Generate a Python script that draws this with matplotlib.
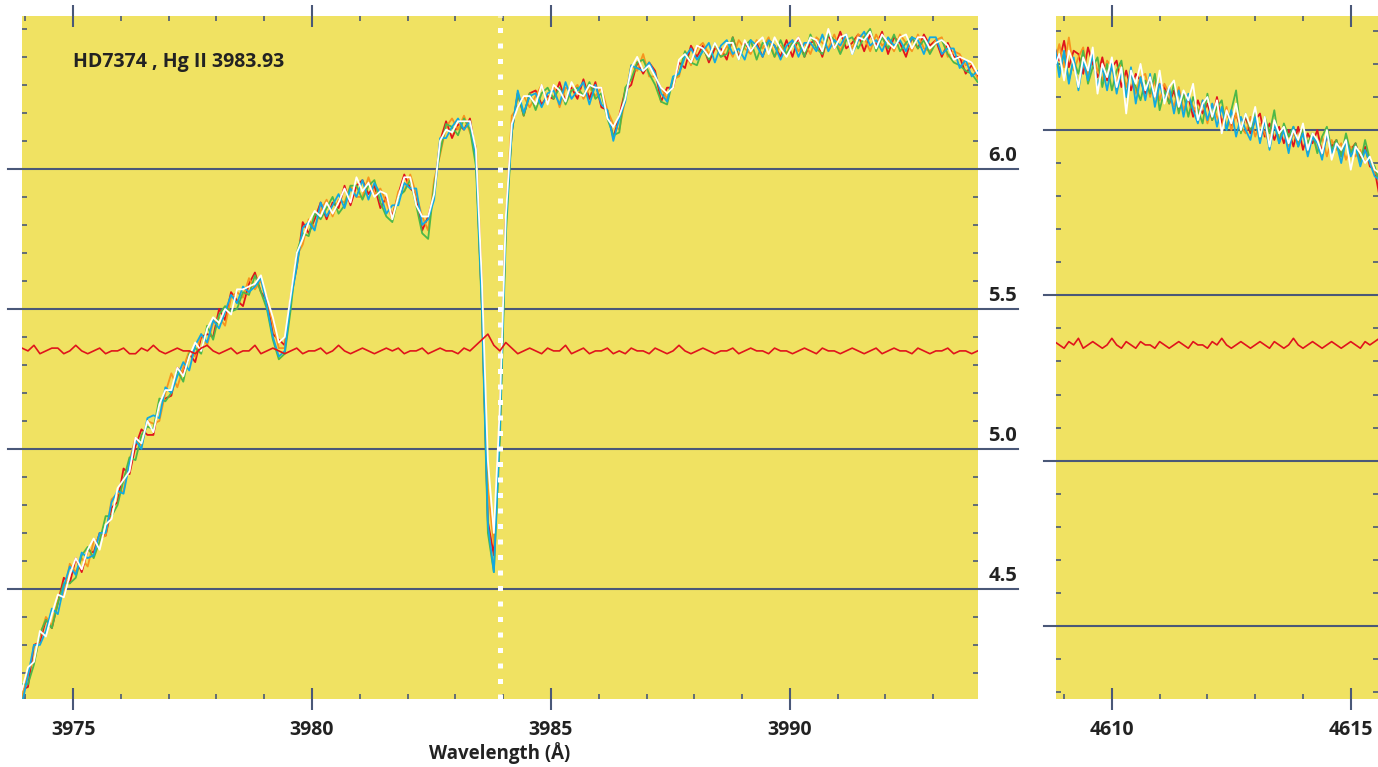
#!/usr/bin/env python3

import numpy as np
import matplotlib
matplotlib.use("Agg")
import matplotlib.pyplot as plt
from matplotlib.ticker import MultipleLocator, NullFormatter, FormatStrFormatter

# ---- data -------------------------------------------------------------------
star = "HD7374"
line_name = "Hg II"
line_wl = 3983.93

# wavelength grids of the two windows (Angstrom)
wl_hg = np.linspace(3973.93, 3993.93, 161)
wl_ref = np.linspace(4608.8, 4615.6, 69)

# normalised flux + offset, one array per exposure, Hg II window
hg_red = [
    4.14, 4.15, 4.30, 4.31, 4.39, 4.36, 4.45, 4.54, 4.52, 4.61, 4.56, 4.64, 4.63, 4.70, 4.69, 4.79,
    4.81, 4.93, 4.91, 5.01, 5.07, 5.05, 5.05, 5.17, 5.18, 5.19, 5.29, 5.27, 5.34, 5.31, 5.40, 5.41,
    5.40, 5.50, 5.46, 5.56, 5.53, 5.51, 5.59, 5.63, 5.56, 5.53, 5.41, 5.39, 5.37, 5.54, 5.65, 5.81,
    5.77, 5.82, 5.88, 5.82, 5.88, 5.86, 5.94, 5.87, 5.94, 5.96, 5.91, 5.94, 5.86, 5.90, 5.83, 5.91,
    5.98, 5.93, 5.91, 5.78, 5.83, 5.91, 6.10, 6.17, 6.11, 6.16, 6.14, 6.18, 6.05, 5.51, 4.74, 4.62,
    5.07, 5.82, 6.13, 6.27, 6.19, 6.27, 6.28, 6.23, 6.26, 6.25, 6.31, 6.24, 6.29, 6.25, 6.32, 6.25,
    6.31, 6.22, 6.21, 6.11, 6.19, 6.28, 6.30, 6.38, 6.34, 6.38, 6.35, 6.24, 6.29, 6.29, 6.38, 6.36,
    6.44, 6.40, 6.44, 6.38, 6.43, 6.43, 6.39, 6.47, 6.40, 6.45, 6.42, 6.45, 6.40, 6.46, 6.44, 6.40,
    6.46, 6.40, 6.47, 6.40, 6.45, 6.46, 6.40, 6.48, 6.43, 6.49, 6.43, 6.45, 6.48, 6.42, 6.48, 6.44,
    6.49, 6.41, 6.47, 6.45, 6.40, 6.47, 6.43, 6.48, 6.44, 6.46, 6.40, 6.45, 6.40, 6.40, 6.34, 6.37,
    6.33,
]
hg_orange = [
    4.11, 4.21, 4.24, 4.33, 4.40, 4.37, 4.46, 4.48, 4.59, 4.56, 4.61, 4.58, 4.67, 4.68, 4.69, 4.82,
    4.84, 4.85, 4.96, 5.04, 5.01, 5.10, 5.09, 5.10, 5.20, 5.27, 5.22, 5.29, 5.35, 5.33, 5.41, 5.37,
    5.45, 5.47, 5.44, 5.54, 5.56, 5.54, 5.61, 5.57, 5.60, 5.54, 5.45, 5.36, 5.36, 5.55, 5.69, 5.73,
    5.82, 5.79, 5.85, 5.89, 5.83, 5.89, 5.88, 5.94, 5.90, 5.90, 5.97, 5.91, 5.93, 5.88, 5.82, 5.92,
    5.92, 5.98, 5.91, 5.83, 5.78, 5.96, 6.05, 6.15, 6.18, 6.14, 6.19, 6.13, 6.08, 5.60, 4.86, 4.66,
    5.13, 5.82, 6.19, 6.22, 6.26, 6.22, 6.26, 6.30, 6.24, 6.30, 6.22, 6.29, 6.28, 6.30, 6.25, 6.29,
    6.26, 6.29, 6.21, 6.16, 6.14, 6.25, 6.37, 6.35, 6.41, 6.33, 6.33, 6.29, 6.25, 6.32, 6.33, 6.42,
    6.37, 6.43, 6.45, 6.41, 6.44, 6.40, 6.44, 6.40, 6.46, 6.43, 6.41, 6.46, 6.43, 6.47, 6.40, 6.44,
    6.41, 6.46, 6.42, 6.45, 6.41, 6.47, 6.45, 6.43, 6.48, 6.42, 6.47, 6.43, 6.48, 6.47, 6.42, 6.48,
    6.44, 6.46, 6.42, 6.48, 6.45, 6.42, 6.48, 6.43, 6.42, 6.46, 6.47, 6.40, 6.42, 6.41, 6.37, 6.38,
    6.32,
]
hg_green = [
    4.16, 4.16, 4.23, 4.34, 4.39, 4.36, 4.45, 4.52, 4.52, 4.54, 4.62, 4.65, 4.61, 4.67, 4.76, 4.76,
    4.80, 4.89, 4.97, 4.96, 5.05, 5.08, 5.07, 5.18, 5.17, 5.20, 5.28, 5.24, 5.34, 5.36, 5.34, 5.44,
    5.39, 5.48, 5.51, 5.49, 5.50, 5.56, 5.55, 5.62, 5.56, 5.50, 5.39, 5.32, 5.34, 5.50, 5.70, 5.77,
    5.76, 5.84, 5.82, 5.86, 5.90, 5.84, 5.87, 5.94, 5.94, 5.89, 5.94, 5.96, 5.88, 5.83, 5.81, 5.90,
    5.92, 5.96, 5.87, 5.77, 5.75, 5.94, 6.06, 6.16, 6.15, 6.12, 6.18, 6.14, 6.01, 5.49, 4.70, 4.56,
    5.03, 5.76, 6.13, 6.27, 6.19, 6.27, 6.21, 6.27, 6.29, 6.25, 6.29, 6.23, 6.28, 6.29, 6.26, 6.31,
    6.25, 6.27, 6.18, 6.12, 6.13, 6.29, 6.32, 6.38, 6.39, 6.34, 6.30, 6.24, 6.23, 6.32, 6.34, 6.42,
    6.38, 6.37, 6.43, 6.39, 6.45, 6.40, 6.41, 6.47, 6.39, 6.44, 6.46, 6.39, 6.45, 6.45, 6.40, 6.46,
    6.41, 6.45, 6.45, 6.40, 6.48, 6.43, 6.41, 6.48, 6.46, 6.41, 6.46, 6.47, 6.43, 6.47, 6.50, 6.42,
    6.47, 6.43, 6.48, 6.42, 6.45, 6.47, 6.43, 6.46, 6.41, 6.45, 6.46, 6.41, 6.38, 6.37, 6.35, 6.34,
    6.31,
]
hg_blue = [
    4.09, 4.19, 4.30, 4.30, 4.35, 4.43, 4.41, 4.51, 4.58, 4.55, 4.63, 4.61, 4.62, 4.70, 4.70, 4.81,
    4.85, 4.84, 4.95, 5.03, 5.00, 5.11, 5.12, 5.11, 5.22, 5.20, 5.26, 5.31, 5.28, 5.37, 5.41, 5.38,
    5.46, 5.43, 5.49, 5.55, 5.52, 5.58, 5.56, 5.58, 5.61, 5.51, 5.40, 5.33, 5.35, 5.53, 5.65, 5.79,
    5.81, 5.78, 5.88, 5.83, 5.87, 5.91, 5.86, 5.93, 5.90, 5.96, 5.89, 5.95, 5.91, 5.84, 5.87, 5.87,
    5.95, 5.93, 5.93, 5.80, 5.82, 5.89, 6.11, 6.11, 6.15, 6.18, 6.14, 6.17, 6.04, 5.51, 4.73, 4.56,
    5.07, 5.80, 6.13, 6.28, 6.20, 6.26, 6.27, 6.22, 6.27, 6.28, 6.23, 6.31, 6.25, 6.28, 6.31, 6.23,
    6.30, 6.23, 6.21, 6.10, 6.18, 6.24, 6.37, 6.36, 6.35, 6.38, 6.34, 6.27, 6.24, 6.33, 6.34, 6.40,
    6.43, 6.39, 6.42, 6.45, 6.38, 6.44, 6.46, 6.41, 6.43, 6.39, 6.46, 6.44, 6.40, 6.46, 6.44, 6.39,
    6.44, 6.46, 6.40, 6.45, 6.45, 6.42, 6.48, 6.42, 6.46, 6.44, 6.48, 6.41, 6.46, 6.49, 6.44, 6.46,
    6.42, 6.47, 6.44, 6.46, 6.42, 6.47, 6.46, 6.41, 6.47, 6.47, 6.41, 6.43, 6.43, 6.36, 6.39, 6.33,
    6.35,
]
hg_white = [
    4.14, 4.22, 4.24, 4.35, 4.33, 4.41, 4.48, 4.47, 4.55, 4.61, 4.57, 4.64, 4.68, 4.64, 4.73, 4.75,
    4.86, 4.89, 4.92, 5.04, 5.02, 5.10, 5.06, 5.16, 5.21, 5.21, 5.29, 5.26, 5.33, 5.38, 5.35, 5.43,
    5.47, 5.45, 5.50, 5.48, 5.57, 5.57, 5.58, 5.59, 5.62, 5.54, 5.47, 5.38, 5.40, 5.55, 5.70, 5.75,
    5.81, 5.85, 5.83, 5.88, 5.84, 5.88, 5.93, 5.88, 5.97, 5.92, 5.95, 5.90, 5.92, 5.91, 5.82, 5.90,
    5.97, 5.97, 5.87, 5.83, 5.83, 5.91, 6.10, 6.14, 6.13, 6.17, 6.17, 6.17, 6.07, 5.60, 4.96, 4.70,
    5.15, 5.83, 6.16, 6.22, 6.26, 6.26, 6.23, 6.30, 6.23, 6.30, 6.28, 6.24, 6.31, 6.27, 6.26, 6.30,
    6.29, 6.29, 6.18, 6.15, 6.19, 6.25, 6.36, 6.40, 6.35, 6.37, 6.33, 6.29, 6.27, 6.29, 6.39, 6.41,
    6.38, 6.44, 6.43, 6.40, 6.45, 6.41, 6.45, 6.45, 6.39, 6.46, 6.42, 6.45, 6.47, 6.41, 6.47, 6.43,
    6.40, 6.44, 6.47, 6.42, 6.47, 6.46, 6.42, 6.50, 6.43, 6.47, 6.48, 6.41, 6.47, 6.46, 6.49, 6.43,
    6.48, 6.45, 6.43, 6.47, 6.48, 6.43, 6.47, 6.47, 6.43, 6.45, 6.46, 6.44, 6.39, 6.40, 6.39, 6.38,
    6.34,
]
# residual (difference of exposures + offset)
hg_diff = [
    5.36, 5.35, 5.37, 5.34, 5.35, 5.36, 5.36, 5.34, 5.35, 5.37, 5.35, 5.34, 5.35, 5.36, 5.34, 5.35,
    5.35, 5.36, 5.34, 5.34, 5.36, 5.35, 5.37, 5.35, 5.34, 5.35, 5.36, 5.35, 5.35, 5.34, 5.36, 5.37,
    5.35, 5.34, 5.35, 5.36, 5.34, 5.35, 5.35, 5.37, 5.34, 5.35, 5.36, 5.35, 5.34, 5.35, 5.36, 5.34,
    5.35, 5.35, 5.36, 5.34, 5.35, 5.37, 5.35, 5.34, 5.35, 5.36, 5.35, 5.34, 5.35, 5.36, 5.35, 5.36,
    5.34, 5.35, 5.35, 5.36, 5.34, 5.35, 5.36, 5.35, 5.35, 5.34, 5.36, 5.35, 5.37, 5.39, 5.41, 5.37,
    5.35, 5.38, 5.36, 5.34, 5.35, 5.36, 5.35, 5.34, 5.36, 5.35, 5.35, 5.37, 5.34, 5.35, 5.36, 5.34,
    5.35, 5.35, 5.36, 5.34, 5.35, 5.34, 5.36, 5.35, 5.35, 5.34, 5.36, 5.35, 5.34, 5.35, 5.37, 5.35,
    5.34, 5.35, 5.36, 5.35, 5.34, 5.35, 5.35, 5.36, 5.34, 5.35, 5.36, 5.35, 5.35, 5.34, 5.36, 5.35,
    5.35, 5.34, 5.35, 5.36, 5.35, 5.34, 5.36, 5.35, 5.35, 5.34, 5.35, 5.36, 5.35, 5.34, 5.35, 5.36,
    5.34, 5.35, 5.36, 5.35, 5.35, 5.34, 5.36, 5.35, 5.34, 5.35, 5.35, 5.36, 5.34, 5.35, 5.35, 5.34,
    5.35,
]

# reference window, same exposures
ref_red = [
    6.25, 6.21, 6.27, 6.19, 6.24, 6.23, 6.17, 6.25, 6.20, 6.16, 6.22, 6.15, 6.19, 6.21, 6.13, 6.18,
    6.12, 6.17, 6.15, 6.11, 6.16, 6.10, 6.14, 6.13, 6.08, 6.12, 6.06, 6.11, 6.10, 6.04, 6.09, 6.05,
    6.08, 6.03, 6.10, 6.02, 6.06, 6.01, 6.05, 6.00, 6.04, 5.99, 6.03, 6.05, 5.98, 6.02, 5.97, 6.01,
    5.96, 6.00, 5.95, 6.01, 5.94, 5.99, 5.96, 6.00, 5.93, 5.98, 5.95, 5.97, 5.92, 5.97, 5.94, 5.96,
    5.91, 5.95, 5.89, 5.88, 5.80,
]
ref_orange = [
    6.20, 6.26, 6.19, 6.28, 6.18, 6.22, 6.25, 6.16, 6.23, 6.18, 6.15, 6.21, 6.19, 6.14, 6.20, 6.13,
    6.18, 6.11, 6.16, 6.17, 6.10, 6.15, 6.09, 6.14, 6.11, 6.07, 6.13, 6.06, 6.10, 6.07, 6.05, 6.09,
    6.02, 6.08, 6.04, 6.01, 6.07, 6.00, 6.05, 6.01, 5.99, 6.04, 5.98, 6.02, 5.99, 5.96, 6.03, 5.97,
    6.01, 5.95, 5.99, 5.96, 6.00, 5.93, 5.99, 5.94, 5.98, 5.92, 5.97, 5.94, 5.96, 5.91, 5.95, 5.92,
    5.94, 5.90, 5.92, 5.87, 5.86,
]
ref_green = [
    6.24, 6.18, 6.23, 6.15, 6.21, 6.17, 6.24, 6.14, 6.19, 6.22, 6.13, 6.20, 6.12, 6.18, 6.21, 6.10,
    6.17, 6.13, 6.09, 6.15, 6.11, 6.17, 6.06, 6.12, 6.08, 6.14, 6.05, 6.11, 6.04, 6.10, 6.06, 6.02,
    6.11, 6.03, 6.07, 6.09, 6.00, 6.06, 6.12, 5.99, 6.05, 6.00, 6.06, 5.97, 6.04, 5.99, 6.06, 5.96,
    6.02, 5.98, 6.01, 5.95, 6.00, 5.96, 5.99, 5.93, 5.98, 6.01, 5.94, 5.97, 5.92, 5.99, 5.93, 5.96,
    5.90, 5.97, 5.91, 5.89, 5.84,
]
ref_blue = [
    6.26, 6.16, 6.24, 6.14, 6.22, 6.12, 6.21, 6.15, 6.23, 6.13, 6.19, 6.12, 6.20, 6.11, 6.18, 6.10,
    6.19, 6.08, 6.16, 6.09, 6.17, 6.07, 6.14, 6.09, 6.13, 6.05, 6.12, 6.04, 6.11, 6.06, 6.02, 6.09,
    6.03, 6.08, 6.01, 6.07, 6.00, 6.06, 5.98, 6.04, 6.00, 5.97, 6.04, 5.96, 6.03, 5.94, 6.02, 5.96,
    6.00, 5.93, 6.01, 5.95, 5.99, 5.92, 5.98, 5.96, 5.91, 5.99, 5.93, 5.96, 5.90, 5.97, 5.92, 5.95,
    5.89, 5.94, 5.90, 5.86, 5.85,
]
ref_white = [
    6.19, 6.23, 6.15, 6.24, 6.20, 6.13, 6.22, 6.18, 6.25, 6.11, 6.20, 6.16, 6.22, 6.13, 6.19, 6.05,
    6.18, 6.14, 6.20, 6.12, 6.16, 6.10, 6.18, 6.08, 6.13, 6.15, 6.07, 6.12, 6.09, 6.14, 6.03, 6.08,
    6.10, 6.04, 6.09, 5.99, 6.06, 6.02, 6.08, 6.00, 6.05, 6.01, 6.07, 5.98, 6.04, 5.95, 6.03, 5.99,
    6.01, 5.96, 6.00, 5.97, 6.02, 5.94, 5.99, 5.97, 5.93, 6.00, 5.91, 5.96, 5.94, 5.97, 5.88, 5.95,
    5.93, 5.90, 5.92, 5.88, 5.87,
]
ref_diff = [
    5.36, 5.35, 5.34, 5.36, 5.35, 5.37, 5.34, 5.35, 5.36, 5.35, 5.34, 5.35, 5.37, 5.35, 5.34, 5.36,
    5.35, 5.34, 5.36, 5.35, 5.35, 5.34, 5.36, 5.35, 5.34, 5.35, 5.36, 5.35, 5.34, 5.36, 5.35, 5.35,
    5.34, 5.36, 5.35, 5.37, 5.35, 5.34, 5.35, 5.36, 5.35, 5.34, 5.35, 5.36, 5.35, 5.34, 5.36, 5.35,
    5.34, 5.35, 5.37, 5.35, 5.34, 5.35, 5.36, 5.35, 5.34, 5.35, 5.36, 5.35, 5.34, 5.35, 5.36, 5.35,
    5.34, 5.36, 5.35, 5.36, 5.37,
]

grid_levels = [4.5, 5.0, 5.5, 6.0]

# ---- style ------------------------------------------------------------------
bg_yellow = "#f0e262"
grid_color = "#4a5878"
text_color = "#222222"
series_colors = ["#e0141c", "#f7941e", "#4db848", "#12a9e0", "#ffffff"]
font = "Open Sans"

plt.rcParams["font.family"] = [font, "DejaVu Sans"]

fig = plt.figure(figsize=(13.78, 7.67), dpi=100)
ax = fig.add_axes([0.01597, 0.08866, 0.6935, 0.8905])
ax2 = fig.add_axes([0.7663, 0.08866, 0.2337, 0.8905])


def style_axis(a):
    a.set_facecolor(bg_yellow)
    for spine in a.spines.values():
        spine.set_visible(False)
    a.xaxis.set_major_locator(MultipleLocator(5))
    a.xaxis.set_minor_locator(MultipleLocator(1))
    a.xaxis.set_major_formatter(FormatStrFormatter("%d"))
    a.yaxis.set_major_locator(MultipleLocator(0.1))
    a.yaxis.set_major_formatter(NullFormatter())
    a.tick_params(axis="x", which="major", direction="inout", length=16, width=1.5,
                  colors=grid_color, top=True, bottom=True, pad=7,
                  labelsize=14, labelcolor=text_color)
    a.tick_params(axis="x", which="minor", direction="in", length=3.6, width=1.2,
                  colors=grid_color, top=True, bottom=True)
    a.tick_params(axis="y", which="both", direction="in", length=3.6, width=1.2,
                  colors=grid_color, left=True, right=True)
    for lab in a.get_xticklabels():
        lab.set_fontweight("bold")


style_axis(ax)
style_axis(ax2)

ax.set_xlim(3973.93, 3993.93)
ax.set_ylim(4.107, 6.546)
ax2.set_xlim(4608.83, 4615.57)
ax2.set_ylim(4.279, 6.345)

# horizontal reference levels, running past the frame
for lev in grid_levels:
    ax.axhline(lev, xmin=-0.0147, xmax=1.0423, color=grid_color, lw=1.5, clip_on=False, zorder=1)
    ax.annotate(f"{lev:.1f}", xy=(1.0413, lev), xycoords=ax.get_yaxis_transform(),
                xytext=(0, 2), textcoords="offset points", ha="right", va="bottom",
                fontsize=14.5, fontweight="bold", color=text_color, annotation_clip=False)
    ax2.axhline(lev, xmin=-0.037, xmax=1.0, color=grid_color, lw=1.5, clip_on=False, zorder=1)

hg_series = [hg_red, hg_orange, hg_green, hg_blue, hg_white]
ref_series = [ref_red, ref_orange, ref_green, ref_blue, ref_white]
for flux, col in zip(hg_series, series_colors):
    ax.plot(wl_hg, flux, color=col, lw=1.3, zorder=3)
for flux, col in zip(ref_series, series_colors):
    ax2.plot(wl_ref, flux, color=col, lw=1.3, zorder=3)

ax.plot(wl_hg, hg_diff, color=series_colors[0], lw=1.2, zorder=3)
ax2.plot(wl_ref, ref_diff, color=series_colors[0], lw=1.2, zorder=3)

# laboratory wavelength of the line
ax.axvline(line_wl, color="white", lw=3.6, linestyle=(0, (1, 2.1)),
           dash_capstyle="butt", zorder=5)

ax.text(0.0534, 0.9327, f"{star} , {line_name} {line_wl:.2f}", transform=ax.transAxes,
        ha="left", va="center", fontsize=14, fontweight="bold", color=text_color)

fig.text(0.3628, 0.0183, "Wavelength (Å)", ha="center", va="center",
         fontsize=13.5, fontweight="bold", color=text_color)

plt.savefig("out.png", dpi=100)
